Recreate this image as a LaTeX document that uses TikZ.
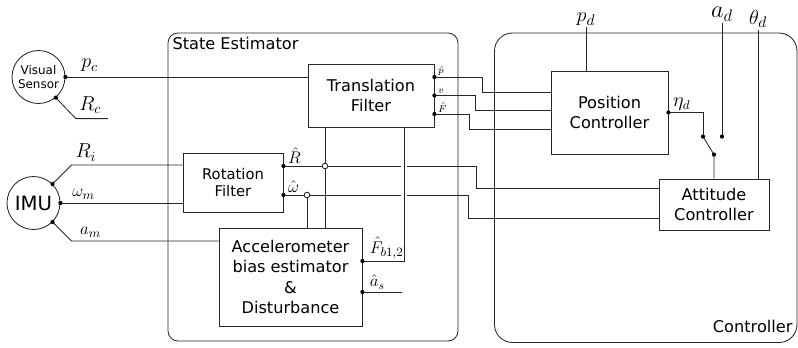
\documentclass[tikz,border=0pt]{standalone}
\usepackage{amsmath}
\usepackage[no-math]{fontspec}
\setmainfont{DejaVu Sans}

\begin{document}
\begin{tikzpicture}[node distance=1.5cm]
\tikzstyle{process} = [rectangle, minimum width=2cm, minimum height=1cm, text centered, align=center, draw=black!85, line width=0.6pt, font=\fontsize{11.5}{14.5}\selectfont]
\tikzstyle{sensor} = [circle, minimum size=1.325cm, inner sep=0pt, align=center, draw=black!85, line width=0.6pt]
\tikzstyle{group} = [rectangle, rounded corners=0.25cm, draw=black!85, line width=0.6pt]
\tikzstyle{wire} = [line width=0.6pt, draw=black!85]
\tikzstyle{toplbl} = [anchor=south, inner sep=1pt]
\tikzstyle{outlbl} = [above right, inner sep=1.5pt, xshift=1.5pt]
\useasboundingbox (-9.275,2.3875) rectangle (10.675,-6.2875);
 %方框和传感器
\node (trans) [process, minimum width=3.15cm, minimum height=1.575cm] {Translation\\Filter};
\node (rot) [process, below of=trans, xshift=-3.45cm, yshift=-0.675cm, minimum width=2.5cm, minimum height=1.475cm, font=\fontsize{10.5}{12.5}\selectfont] {Rotation\\Filter};
\node (acc) [process, below of=rot, xshift=1.4375cm, yshift=-0.8625cm, minimum width=3.575cm, minimum height=2.45cm] {Accelerometer\\bias estimator\\\&\\Disturbance};
\node (pos) [process, right of=trans, xshift=4.4625cm, yshift=-0.425cm, minimum width=2.925cm, minimum height=2.075cm] {Position\\Controller};
\node (att) [process, below of=pos, xshift=2.6125cm, yshift=-0.8cm, minimum width=2.75cm, minimum height=1.275cm] {Attitude\\Controller};
\node (vs) [sensor, left of=trans, xshift=-6.8125cm, yshift=0.4625cm, font=\fontsize{8.5}{10.5}\selectfont] {Visual\\Sensor};
\node (imu) [sensor, left of=rot, xshift=-3.4875cm, yshift=-0.5125cm, font=\fontsize{14}{17}\selectfont] {IMU};
\node (est) [group, below of=trans, xshift=-1.45cm, yshift=-0.7875cm, minimum width=7.25cm, minimum height=7.7cm, label={[anchor=north west, font=\fontsize{11.5}{14}\selectfont]north west:State Estimator}] {};
\node (ctrl) [group, rounded corners=0.45cm, right of=trans, xshift=5.36875cm, yshift=-2.30625cm, minimum width=7.5625cm, minimum height=7.7375cm, label={[anchor=south east, yshift=0.12cm, font=\fontsize{11.5}{14}\selectfont]south east:Controller}] {};
\node (pd) [toplbl, above of=pos, xshift=-0.5875cm, yshift=0.8375cm, font=\fontsize{15}{15}\selectfont] {$p_d$};
\node (ad) [toplbl, above of=att, xshift=0.2cm, yshift=3.25cm, font=\fontsize{18}{18}\selectfont] {$a_d$};
\node (thd) [toplbl, above of=att, xshift=1.1cm, yshift=3.1375cm, font=\fontsize{15}{15}\selectfont] {$\theta_d$};

 %端点
\coordinate (phat) at ([yshift=0.4625cm]trans.east);
\coordinate (vhat) at (trans.east);
\coordinate (fhat) at ([yshift=-0.4625cm]trans.east);
\coordinate (rhat) at ([yshift=0.4125cm]rot.east);
\coordinate (what) at ([yshift=-0.3125cm]rot.east);
\coordinate (fb) at ([yshift=0.4cm]acc.east);
\coordinate (as) at ([yshift=-0.375cm]acc.east);
\coordinate (swa) at ([shift={(-0.275,1.05)}]att.north);
\coordinate (swb) at ([shift={(0.2,1.05)}]att.north);
\coordinate (swc) at ([shift={(0,0.6)}]att.north);

 %连线
\draw [wire] (vs.east) -- (vs.east -| trans.west) node (pcl) [pos=0.1, above, font=\fontsize{14}{14}\selectfont] {$p_c$};
\draw [wire] (vs.-50) -- ++(0.5,-0.525) -- ++(0.8,0) coordinate (rcend) node (rcl) [pos=0.45, above, font=\fontsize{14}{14}\selectfont] {$R_c$};
\draw [wire] (imu.45) -- ++(0.475,0.475) coordinate (ri) -- (ri -| rot.west) node (ril) [pos=0.13, above, inner sep=2.5pt, font=\fontsize{14}{14}\selectfont] {$R_i$};
\draw [wire] (imu.east) -- (imu.east -| rot.west) node (wml) [pos=0.19, above, inner sep=2.5pt, font=\fontsize{12.5}{12.5}\selectfont] {$\omega_m$};
\draw [wire] (imu.-45) -- ++(0.475,-0.475) coordinate (am) -- (am -| acc.west) node (aml) [pos=0.13, above, inner sep=2.5pt, font=\fontsize{12.5}{12.5}\selectfont] {$a_m$};
\draw [wire] (phat) node (phl) [outlbl, inner sep=0.8pt, font=\fontsize{7.5}{7.5}\selectfont] {$\hat{p}$} -- ++(1.2,0) |- ([yshift=0.5cm]pos.west);
\draw [wire] (vhat) node (vhl) [outlbl, inner sep=0.8pt, font=\fontsize{7.5}{7.5}\selectfont] {$v$} -- ++(1.025,0) |- ([yshift=0.04cm]pos.west);
\draw [wire] (fhat) node (fhl) [outlbl, inner sep=0.8pt, font=\fontsize{7.5}{7.5}\selectfont] {$\hat{F}$} -- ++(0.875,0) |- ([yshift=-0.42cm]pos.west);
\draw [wire] (rhat) node (rhl) [outlbl, font=\fontsize{13}{13}\selectfont] {$\hat{R}$} -- ++(4.825,0) |- ([yshift=0.4125cm]att.west);
\draw [wire] (what) node (whl) [outlbl, font=\fontsize{12}{12}\selectfont] {$\hat{\omega}$} -- ++(4.625,0) |- ([yshift=-0.3375cm]att.west);
\draw [wire] ([xshift=-1.15cm]trans.south) -- ([xshift=-1.15cm]trans.south |- acc.north);
\draw [wire] ([xshift=0.4125cm]acc.north |- what) -- ([xshift=0.4125cm]acc.north);
\draw [wire, preaction={draw=white, line width=4pt, shorten <=2pt, shorten >=2pt}] (fb) node (fbl) [outlbl, xshift=2pt, font=\fontsize{12.5}{12.5}\selectfont] {$\hat{F}_{b1,2}$} -| ([xshift=0.825cm]trans.south);
\draw [wire] (as) node (asl) [outlbl, xshift=2pt, font=\fontsize{12}{12}\selectfont] {$\hat{a}_s$} -- ++(1,0) coordinate (asend);
\draw [wire] (pd.south) -- (pd.south |- pos.north);
\draw [wire] (pos.east) node (etal) [outlbl, font=\fontsize{13.5}{13.5}\selectfont] {$\eta_d$} -| (swa);
\draw [wire] (swa) -- (swc) -- (att.north);
\draw [wire] (ad.south) -- (swb);
\draw [wire] (thd.south) -- (thd.south |- att.north);
\filldraw [wire, fill=white] ([xshift=-1.15cm]trans.south |- rhat) circle (2pt);
\filldraw [wire, fill=white] ([xshift=0.4125cm]acc.north |- what) circle (2pt);
\foreach \p in {phat, vhat, fhat, rhat, what, fb, as, pos.east, swa, swb, swc, vs.east, vs.-50, imu.45, imu.east, imu.-45}
  \fill (\p) circle (1.5pt);
\end{tikzpicture}
\end{document}
